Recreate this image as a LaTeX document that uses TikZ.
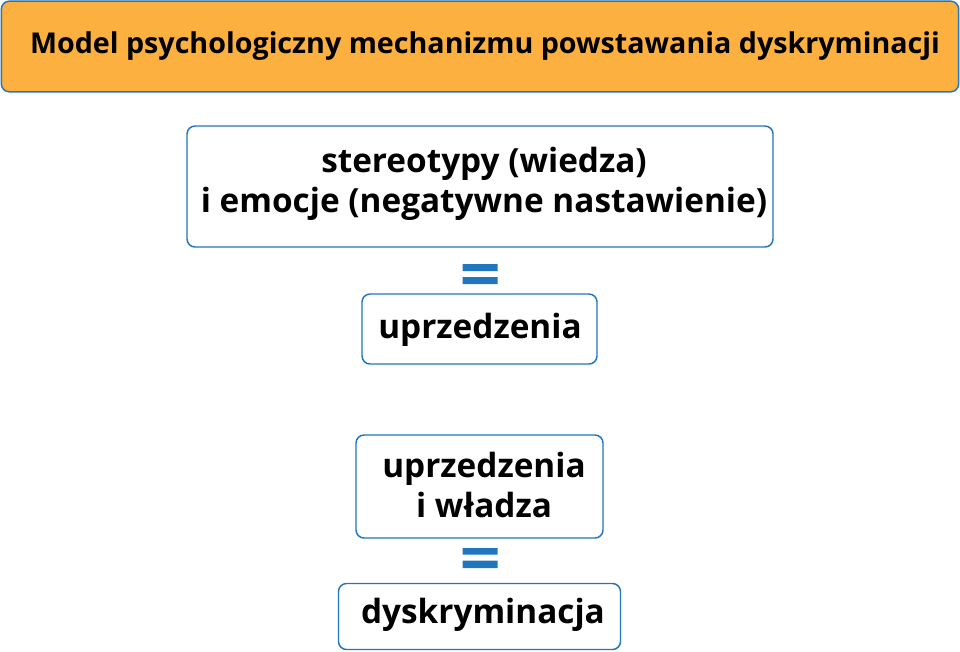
\documentclass[tikz,border=0pt]{standalone}
\usepackage{fontspec}
\setmainfont{Open Sans}
\definecolor{boxblue}{HTML}{2176C0}
\definecolor{titleorange}{HTML}{FBB040}
\tikzset{every picture/.style={line width=0.75pt},
  box/.style={draw=boxblue,line width=1.1pt,rounded corners=6pt,fill=white,inner sep=0pt},
  lbl/.style={inner sep=0pt,align=center,font=\fontsize{25}{30}\selectfont\bfseries}}

\begin{document}
\begin{tikzpicture}[x=0.75pt,y=0.75pt,yscale=-1,xscale=1]
\useasboundingbox (0,0) rectangle (960,651);
%Shape: Rectangle [title]
\node (title) [box,fill=titleorange,minimum width=718pt,minimum height=68pt] at (480,46.5) {};
%Shape: Rectangle [stereotypy]
\node (wiedza) [box,minimum width=439.5pt,minimum height=90.75pt] at (480,186.5) {};
%Shape: Rectangle [uprzedzenia]
\node (uprz) [box,minimum width=176.25pt,minimum height=52.5pt] at (479.5,329) {};
%Shape: Rectangle [uprzedzenia i wladza]
\node (wladza) [box,minimum width=185.25pt,minimum height=77.25pt] at (479.5,486.5) {};
%Shape: Rectangle [dyskryminacja]
\node (dysk) [box,minimum width=211.5pt,minimum height=49.5pt] at (479.5,616.5) {};
%Shape: Equals
\fill [boxblue] (462.5,264) rectangle (497.5,271) (462.5,277) rectangle (497.5,284) ;
\fill [boxblue] (462.5,548) rectangle (497.5,554.5) (462.5,560.5) rectangle (497.5,568) ;
% Text Node
\node (titletxt) [lbl,font=\fontsize{21.5}{26}\selectfont\bfseries] at (485,46) {Model psychologiczny mechanizmu powstawania dyskryminacji};
% Text Node
\node (wiedzatxt) [lbl] at (484,184) {stereotypy (wiedza)\\ i emocje (negatywne nastawienie)};
% Text Node
\node (uprztxt) [lbl] at (480,330) {uprzedzenia};
% Text Node
\node (wladzatxt) [lbl] at (484,485) {uprzedzenia\\ i władza};
% Text Node
\node (dysktxt) [lbl] at (483,615) {dyskryminacja};
\end{tikzpicture}
\end{document}
